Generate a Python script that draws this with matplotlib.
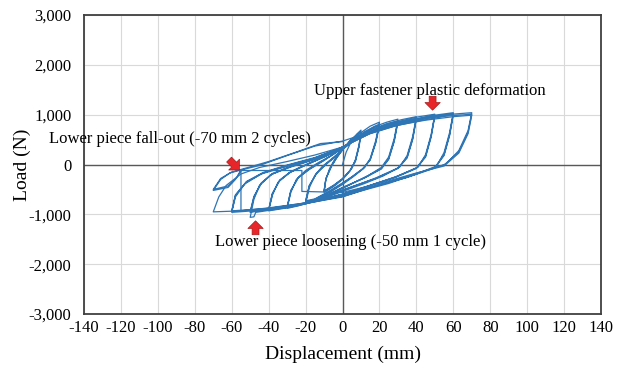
import matplotlib
matplotlib.use("Agg")
import matplotlib.pyplot as plt
from matplotlib.ticker import FuncFormatter, MultipleLocator

plt.rcParams["font.family"] = ["Liberation Serif", "DejaVu Serif"]
plt.rcParams["axes.unicode_minus"] = False

# Displacement (mm) / load (N) record, split into amplitude stages
STAGE_10 = [
    (0, 0), (2, 250), (5, 480), (8, 620), (10, 690),
    (9, 400), (7, 100), (5, -80), (2, -220), (0, -300), (-4, -420), (-8, -520), (-10, -560),
    (-9, -300), (-7, -80), (-4, 120), (0, 300), (4, 480), (8, 610), (10, 650),
    (9, 380), (7, 80), (4, -120), (0, -280), (-5, -430), (-10, -540),
    (-9, -290), (-6, -40), (-3, 140), (0, 290), (4, 470), (8, 600), (10, 640),
    (9, 360), (7, 60), (4, -130), (0, -290), (-5, -420), (-10, -530),
    (-9, -280), (-6, -30), (-3, 150), (0, 300),
]
STAGE_20 = [
    (0, 300), (5, 490), (10, 640), (15, 770), (20, 850),
    (18, 480), (15, 120), (12, -60), (6, -240), (0, -400), (-6, -540), (-12, -660), (-17, -750), (-20, -790),
    (-18, -470), (-15, -220), (-11, -40), (-6, 110), (0, 300), (6, 480), (12, 650), (17, 760), (20, 810),
    (18, 450), (15, 100), (11, -80), (5, -250), (0, -380), (-8, -570), (-15, -700), (-20, -750),
    (-18, -430), (-14, -180), (-9, 0), (-4, 150), (0, 310), (6, 470), (12, 630), (17, 740), (20, 780),
    (18, 430), (15, 90), (11, -90), (5, -250), (0, -370), (-8, -550), (-15, -690), (-20, -730),
    (-18, -420), (-14, -170), (-9, 10), (-4, 160), (0, 310),
]
STAGE_30 = [
    (0, 310), (6, 510), (12, 660), (18, 770), (24, 850), (30, 910),
    (28, 520), (25, 150), (21, -60), (14, -220), (7, -350), (0, -480), (-8, -630), (-16, -740), (-24, -830),
    (-30, -880),
    (-28, -560), (-25, -300), (-20, -120), (-13, 40), (-6, 180), (0, 330), (8, 530), (16, 690), (24, 810),
    (30, 870),
    (28, 480), (25, 120), (21, -80), (12, -260), (0, -470), (-10, -650), (-20, -780), (-30, -860),
    (-28, -530), (-24, -270), (-18, -100), (-10, 80), (0, 330), (8, 520), (16, 670), (24, 790), (30, 850),
    (28, 460), (25, 100), (21, -90), (12, -270), (0, -460), (-10, -640), (-20, -770), (-30, -850),
    (-28, -520), (-24, -260), (-18, -90), (-10, 90), (0, 330),
]
STAGE_40 = [
    (0, 330), (8, 550), (16, 710), (24, 820), (32, 900), (40, 960),
    (38, 560), (35, 180), (31, -50), (22, -230), (12, -380), (0, -540), (-10, -680), (-20, -790), (-30, -870),
    (-40, -930),
    (-38, -620), (-35, -360), (-29, -170), (-21, -30), (-12, 120), (0, 340), (10, 570), (20, 730), (30, 850),
    (40, 930),
    (38, 520), (35, 150), (30, -70), (18, -270), (0, -520), (-15, -730), (-28, -850), (-40, -910),
    (-38, -590), (-34, -320), (-28, -150), (-18, 20), (-8, 180), (0, 340), (10, 560), (20, 710), (30, 830),
    (40, 910),
    (38, 500), (35, 130), (30, -80), (18, -280), (0, -510), (-15, -720), (-28, -840), (-40, -900),
    (-38, -580), (-34, -310), (-28, -140), (-18, 30), (-8, 190), (0, 340),
]
STAGE_50 = [
    (0, 340), (10, 580), (20, 740), (30, 860), (40, 950), (50, 1010),
    (48, 600), (45, 200), (41, -50), (30, -230), (15, -420), (0, -600), (-12, -720), (-25, -830), (-38, -910),
    (-47, -960), (-48, -1050), (-50, -1060),
    (-48, -700), (-45, -420), (-39, -210), (-31, -80), (-20, 60), (-10, 180), (0, 350), (12, 600), (25, 770),
    (38, 890), (50, 990),
    (48, 570), (45, 170), (40, -70), (28, -260), (12, -450), (0, -600), (-15, -740), (-30, -860), (-45, -930),
    (-50, -960),
    (-48, -660), (-44, -380), (-38, -190), (-28, -50), (-15, 100), (0, 350), (12, 590), (25, 750),
    (38, 870), (50, 970),
    (48, 550), (45, 150), (40, -80), (28, -270), (12, -460), (0, -590), (-15, -730), (-30, -850), (-45, -920),
    (-50, -950),
    (-48, -640), (-44, -370), (-38, -180), (-28, -40), (-15, 110), (0, 350),
]
STAGE_60 = [
    (0, 350), (12, 610), (24, 770), (36, 890), (48, 980), (60, 1040),
    (58, 640), (55, 240), (51, -30), (40, -190), (25, -380), (10, -530), (0, -640), (-15, -750), (-30, -850),
    (-45, -920), (-60, -960),
    (-58, -650), (-53, -390), (-44, -190), (-35, -90), (-22, 40), (-10, 170), (0, 350), (15, 630), (30, 810),
    (45, 940), (60, 1020),
    (58, 600), (55, 200), (50, -60), (35, -250), (15, -450), (0, -630), (-20, -780), (-40, -890), (-60, -940),
    (-58, -620), (-52, -350), (-43, -170), (-30, -20), (-15, 130), (0, 350), (15, 620), (30, 790),
    (45, 920), (60, 1000),
    (58, 580), (55, 180), (50, -70), (35, -260), (15, -460), (0, -620), (-20, -770), (-40, -880), (-60, -930),
    (-58, -610), (-52, -340), (-43, -160), (-30, -10), (-15, 140), (0, 350),
]
STAGE_70 = [
    (0, 350), (14, 630), (28, 800), (42, 910), (56, 1000), (70, 1040),
    (68, 680), (63, 280), (56, 10), (47, -100), (30, -300), (15, -470), (0, -650), (-20, -780), (-40, -880),
    (-55, -930), (-70, -950),
    (-67, -650), (-63, -420), (-55, -190), (-45, -60), (-30, 60), (-15, 190), (0, 350), (14, 610), (28, 770),
    (42, 880), (56, 970), (70, 1010),
    (68, 640), (63, 250), (55, -10), (45, -120), (25, -350), (0, -640), (-20, -770), (-40, -870), (-55, -930),
]
STAGE_FALLOUT = [
    (-55, -930), (-55, -110), (-58, -300), (-62, -460), (-70, -520),
    (-66, -300), (-61, -170), (-55, -110), (-45, -20), (-30, 180), (-15, 370), (0, 470), (15, 650), (30, 790),
    (45, 890), (60, 960), (70, 990),
    (68, 620), (63, 230), (55, -30), (40, -170), (20, -380), (0, -560), (-22, -540), (-22, -120), (-55, -120),
    (-57, -250), (-62, -430), (-70, -500), (-66, -280), (-60, -150), (-55, -100), (-40, 60), (-25, 250),
    (-12, 420), (0, 460),
]
STAGES = [STAGE_10, STAGE_20, STAGE_30, STAGE_40, STAGE_50, STAGE_60, STAGE_70, STAGE_FALLOUT]

LINE_COLOR = "#2E75B6"

fig = plt.figure(figsize=(6.28, 3.68), dpi=100)
ax = fig.add_axes([0.1338, 0.1467, 0.8232, 0.8125])

ax.grid(True, color="#D9D9D9", lw=0.8)
ax.set_axisbelow(True)
ax.axhline(0, color="#595959", lw=1.0, zorder=1)
ax.axvline(0, color="#595959", lw=1.0, zorder=1)

for stage in STAGES:
    xs = [p[0] for p in stage]
    ys = [p[1] for p in stage]
    ax.plot(xs, ys, color=LINE_COLOR, lw=0.9, zorder=2)

ax.set_xlim(-140, 140)
ax.set_ylim(-3000, 3000)
ax.xaxis.set_major_locator(MultipleLocator(20))
ax.yaxis.set_major_locator(MultipleLocator(1000))
ax.yaxis.set_major_formatter(FuncFormatter(lambda v, _: f"{v:,.0f}"))
ax.tick_params(length=0, labelsize=12)
ax.tick_params(axis="x", pad=4)
ax.tick_params(axis="y", pad=9)
for sp in ax.spines.values():
    sp.set_color("#404040")
    sp.set_linewidth(1.3)

ax.set_xlabel("Displacement (mm)", fontsize=14, labelpad=7)
ax.set_ylabel("Load (N)", fontsize=14, labelpad=-2)

ax.text(47.4, 1480, "Upper fastener plastic deformation", fontsize=12, ha="center", va="center")
ax.text(-88.3, 520, "Lower piece fall-out (-70 mm 2 cycles)", fontsize=12, ha="center", va="center")
ax.text(4.1, -1560, "Lower piece loosening (-50 mm 1 cycle)", fontsize=12, ha="center", va="center")

arrow_style = dict(arrowstyle="simple,head_length=0.5,head_width=1.0,tail_width=0.45",
                   mutation_scale=11, shrinkA=0, shrinkB=0,
                   fc="#E8262A", ec="#A81818", lw=0.5)
ax.annotate("", xy=(48.8, 1090), xytext=(0, 10), textcoords="offset points", arrowprops=arrow_style)
ax.annotate("", xy=(-55.8, -110), xytext=(-7.5, 7.5), textcoords="offset points", arrowprops=arrow_style)
ax.annotate("", xy=(-47.1, -1130), xytext=(0, -10), textcoords="offset points", arrowprops=arrow_style)

fig.savefig("out.png", dpi=100)
